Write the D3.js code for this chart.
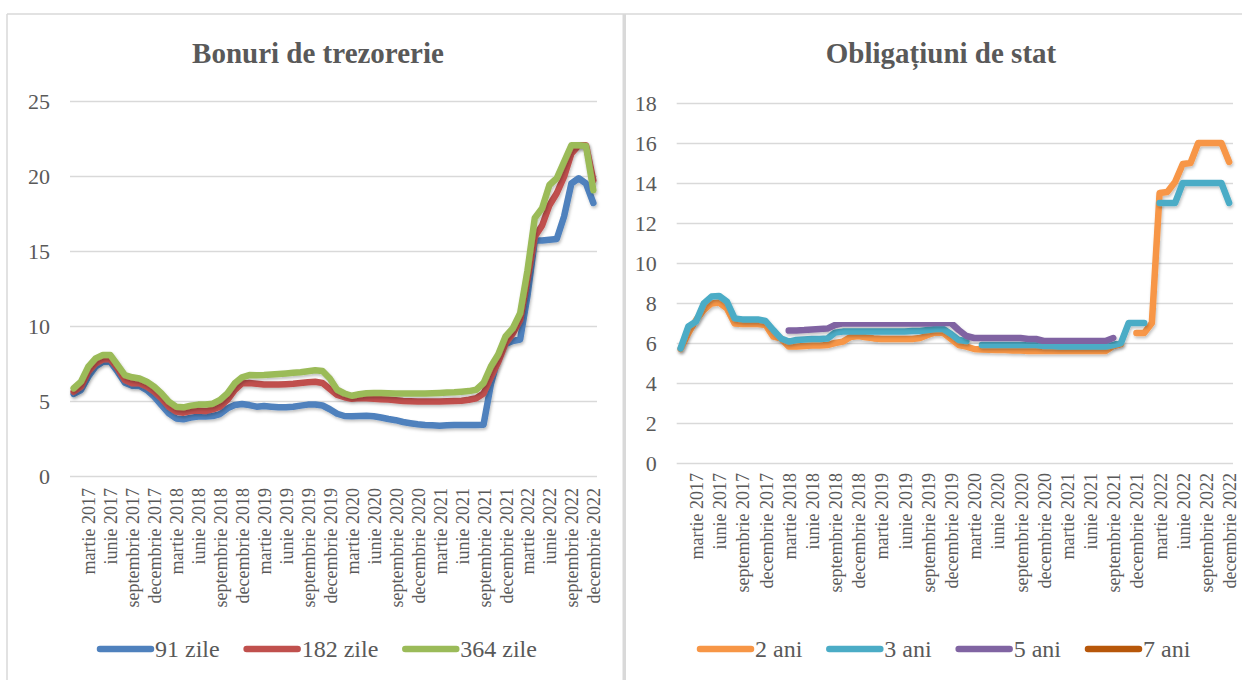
<!DOCTYPE html>
<html><head><meta charset="utf-8">
<script src="https://cdn.jsdelivr.net/npm/d3@7"></script>
<style>
html,body{margin:0;padding:0;background:#fff;}
svg{display:block;font-family:"Liberation Serif","Times New Roman",serif;}
text{font-family:"Liberation Serif","Times New Roman",serif;}
</style></head><body>
<svg id="c" width="1242" height="680"></svg>
<script>
// ---------- DATA ----------
const months = ["ianuarie","februarie","martie","aprilie","mai","iunie","iulie","august","septembrie","octombrie","noiembrie","decembrie"];
const years = [2017, 2018, 2019, 2020, 2021, 2022];
const categories = years.flatMap(y => months.map(m => m + " " + y));
const tickLabels = [
  "martie 2017","iunie 2017","septembrie 2017","decembrie 2017",
  "martie 2018","iunie 2018","septembrie 2018","decembrie 2018",
  "martie 2019","iunie 2019","septembrie 2019","decembrie 2019",
  "martie 2020","iunie 2020","septembrie 2020","decembrie 2020",
  "martie 2021","iunie 2021","septembrie 2021","decembrie 2021",
  "martie 2022","iunie 2022","septembrie 2022","decembrie 2022"
];

// Bonuri de trezorerie
const tbTitle = "Bonuri de trezorerie";
const tbNames = ["91 zile", "182 zile", "364 zile"];
const tbColors = ["#4f81bd", "#c0504d", "#9bbb59"];
const tbTicks = [0, 5, 10, 15, 20, 25];
const tb91 = [5.47,5.73,6.62,7.29,7.62,7.62,6.96,6.22,6.02,6.0,5.73,5.29,
  4.73,4.18,3.84,3.78,3.89,3.96,3.96,4.0,4.13,4.51,4.73,4.8,
  4.73,4.62,4.67,4.62,4.58,4.58,4.62,4.69,4.76,4.76,4.7,4.45,
  4.15,4.0,3.98,4.0,4.02,3.98,3.9,3.8,3.72,3.6,3.52,3.45,
  3.4,3.38,3.35,3.38,3.4,3.4,3.4,3.4,3.42,6.1,7.9,8.8,
  9.0,9.1,12.0,15.7,15.7,15.75,15.8,17.3,19.5,19.85,19.5,18.2];
const tb182 = [5.62,5.96,6.96,7.51,7.78,7.78,7.18,6.4,6.18,6.18,5.96,5.62,
  5.18,4.62,4.29,4.22,4.33,4.36,4.33,4.44,4.62,5.07,5.73,6.18,
  6.2,6.15,6.1,6.1,6.1,6.12,6.15,6.2,6.25,6.28,6.2,5.8,
  5.4,5.25,5.15,5.2,5.18,5.15,5.12,5.1,5.05,5.0,4.98,4.96,
  4.96,4.96,4.96,4.98,5.0,5.02,5.08,5.18,5.5,6.6,7.6,8.85,
  9.5,10.4,13.1,15.95,16.7,18.05,18.85,19.95,21.5,22.05,22.05,19.7];
const tb364 = [5.85,6.29,7.29,7.84,8.07,8.07,7.4,6.73,6.58,6.5,6.29,5.96,
  5.51,4.96,4.62,4.58,4.69,4.76,4.76,4.82,5.07,5.51,6.18,6.58,
  6.73,6.72,6.73,6.76,6.8,6.84,6.88,6.92,6.98,7.05,7.0,6.5,
  5.75,5.5,5.35,5.45,5.52,5.53,5.53,5.52,5.5,5.5,5.5,5.5,
  5.5,5.52,5.54,5.56,5.58,5.62,5.66,5.75,6.2,7.3,8.1,9.3,
  9.85,10.85,13.7,17.2,17.85,19.4,19.85,20.95,22.05,22.05,22.0,19.05];

// Obligatiuni de stat
const osTitle = "Obligațiuni de stat";
const osNames = ["2 ani", "3 ani", "5 ani", "7 ani"];
const osColors = ["#f79646", "#4bacc6", "#8064a2", "#b7570a"];
const osTicks = [0, 2, 4, 6, 8, 10, 12, 14, 16, 18];
const os2 = [5.7,6.48,7.15,7.65,7.98,8.02,7.73,6.98,6.95,6.95,6.95,6.9,
  6.32,6.23,5.82,5.82,5.85,5.88,5.88,5.9,6.0,6.07,6.3,6.35,
  6.28,6.23,6.2,6.2,6.2,6.2,6.2,6.25,6.4,6.53,6.5,6.2,
  5.9,5.82,5.7,5.68,5.66,5.65,5.65,5.63,5.62,5.6,5.6,5.6,
  5.6,5.6,5.6,5.6,5.6,5.6,5.6,5.6,5.85,5.95,null,6.5,
  6.5,7.0,13.5,13.55,14.05,14.95,15.0,16.0,16.0,16.0,16.0,15.05];
const os3 = [5.73,6.82,7.07,7.98,8.32,8.35,8.07,7.23,7.18,7.18,7.18,7.1,
  6.65,6.23,6.07,6.15,6.18,6.2,6.2,6.22,6.52,6.57,6.57,6.57,
  6.57,6.57,6.57,6.57,6.58,6.58,6.6,6.6,6.65,6.7,6.7,6.45,
  6.15,6.1,null,5.9,5.9,5.9,5.9,5.9,5.9,5.9,5.9,5.85,
  5.85,5.82,5.82,5.82,5.82,5.82,5.82,5.82,5.9,6.0,7.0,7.0,
  7.0,null,13.0,13.0,13.0,14.0,14.0,14.0,14.0,14.0,14.0,13.0];
const os5 = [null,null,null,null,null,null,null,null,null,null,null,null,
  null,null,6.62,6.63,6.65,6.68,6.7,6.72,6.9,6.98,6.98,6.98,
  6.98,6.98,6.98,6.98,6.98,6.98,6.98,6.98,6.98,7.0,7.0,7.0,
  6.65,6.35,6.25,6.25,6.25,6.25,6.25,6.25,6.25,6.2,6.2,6.1,
  6.1,6.1,6.1,6.1,6.1,6.1,6.1,6.1,6.25,null,null,null,
  null,null,null,null,null,null,null,null,null,null,null,null];
const os7 = categories.map(() => null);

// ---------- DRAW ----------
const svg = d3.select("#c");
const TXT = "#595959", GRID = "#d9d9d9";
const FONT = "Liberation Serif, Times New Roman, serif";

const defs = svg.append("defs");
defs.append("filter").attr("id", "sh").attr("x", "-5%").attr("y", "-5%").attr("width", "110%").attr("height", "120%")
  .append("feDropShadow").attr("dx", 1).attr("dy", 2).attr("stdDeviation", 1.5)
  .attr("flood-color", "#000").attr("flood-opacity", 0.25);

// panel frames
svg.append("line").attr("x1", 7).attr("x2", 1242).attr("y1", 14).attr("y2", 14)
  .attr("stroke", GRID).attr("stroke-width", 1.5);
svg.append("line").attr("x1", 7).attr("x2", 7).attr("y1", 14).attr("y2", 680)
  .attr("stroke", GRID).attr("stroke-width", 1.5);
svg.append("rect").attr("x", 622.5).attr("y", 14).attr("width", 3.5).attr("height", 670)
  .attr("fill", GRID);

function panel(cfg) {
  const g = svg.append("g").attr("font-family", FONT);
  const x = d3.scaleBand().domain(categories).range([cfg.x0, cfg.x1]).padding(0);
  const y = d3.scaleLinear().domain([0, cfg.ticks[cfg.ticks.length - 1]]).range([cfg.yb, cfg.yt]);

  // title
  g.append("text").attr("x", cfg.tx).attr("y", 63).attr("text-anchor", "middle")
    .attr("font-family", FONT)
    .attr("font-size", 29).attr("font-weight", "bold").attr("fill", TXT).text(cfg.title);

  // y axis + grid
  const ya = g.append("g").attr("transform", `translate(${cfg.x0},0)`)
    .call(d3.axisLeft(y).tickValues(cfg.ticks).tickSize(-(cfg.x1 - cfg.x0)).tickPadding(cfg.pad));
  ya.attr("font-family", FONT);
  ya.select(".domain").remove();
  ya.selectAll(".tick line").attr("stroke", GRID).attr("stroke-width", 1.6);
  ya.selectAll(".tick text").attr("fill", TXT).attr("font-size", 22)
    .attr("font-family", FONT).attr("dy", "0.34em");

  // x axis
  const xa = g.append("g").attr("transform", `translate(0,${cfg.yb})`)
    .call(d3.axisBottom(x).tickValues(tickLabels).tickSize(0));
  xa.attr("font-family", FONT);
  xa.select(".domain").remove();
  xa.selectAll(".tick text").attr("fill", TXT).attr("font-size", 18)
    .attr("font-family", FONT)
    .attr("x", 0).attr("y", 0).attr("dy", 0)
    .attr("text-anchor", "end")
    .attr("transform", `translate(7,${cfg.lab}) rotate(-90)`);

  // lines
  const line = d3.line()
    .defined(d => d.v != null)
    .x(d => x(d.c) + x.bandwidth() / 2)
    .y(d => y(d.v));
  cfg.series.forEach((s, k) => {
    const data = categories.map((c, i) => ({ c, v: s[i] }));
    g.append("path").datum(data).attr("d", line)
      .attr("fill", "none").attr("stroke", cfg.colors[k]).attr("stroke-width", 6.5)
      .attr("stroke-linejoin", "round").attr("stroke-linecap", "round")
      .attr("filter", "url(#sh)");
  });

  // legend
  let lx = cfg.legX;
  const ly = 649;
  cfg.names.forEach((n, k) => {
    g.append("line").attr("x1", lx + 3).attr("x2", lx + 54).attr("y1", ly).attr("y2", ly)
      .attr("stroke", cfg.colors[k]).attr("stroke-width", 6.5).attr("stroke-linecap", "round");
    const t = g.append("text").attr("x", lx + 58).attr("y", ly + 8)
      .attr("font-family", FONT)
      .attr("font-size", 24).attr("fill", TXT).text(n);
    lx = lx + 58 + t.node().getComputedTextLength() + 24;
  });
}

panel({
  title: tbTitle, tx: 318, x0: 70, x1: 597, yt: 101, yb: 476, ticks: tbTicks, pad: 20, lab: 12,
  series: [tb91, tb182, tb364], names: tbNames, colors: tbColors, legX: 97
});
panel({
  title: osTitle, tx: 941, x0: 676.7, x1: 1233, yt: 103, yb: 463, ticks: osTicks, pad: 20, lab: 10,
  series: [os2, os3, os5, os7], names: osNames, colors: osColors, legX: 697
});
</script>
</body></html>
